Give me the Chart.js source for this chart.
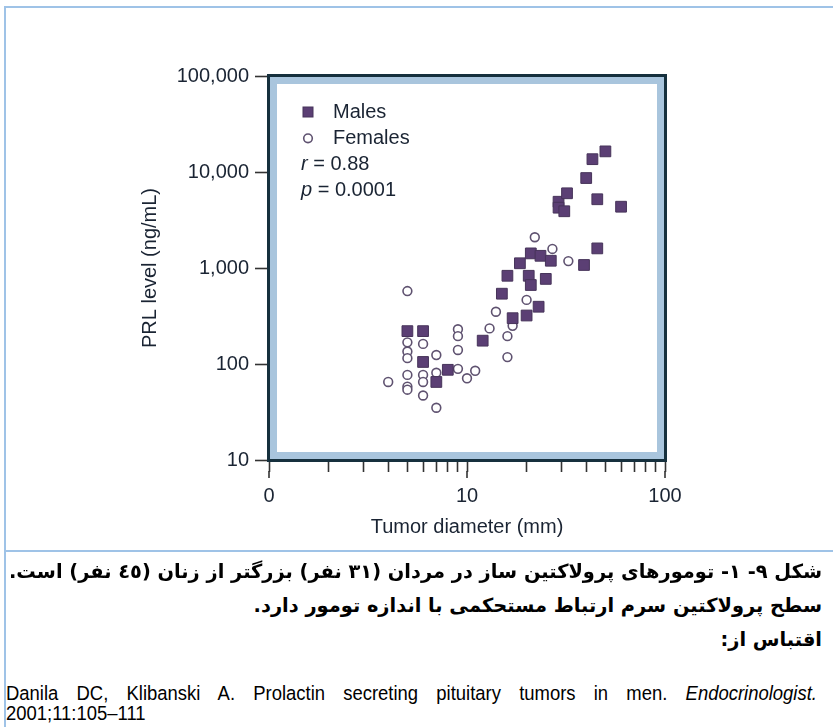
<!DOCTYPE html>
<html lang="fa">
<head>
<meta charset="utf-8">
<title>PRL level vs tumor diameter</title>
<script src="https://cdn.jsdelivr.net/npm/chart.js@4.4.1/dist/chart.umd.min.js"></script>
<style>
  html, body { margin: 0; padding: 0; background: #fff; }
  #pagina { position: relative; width: 833px; height: 727px; overflow: hidden; }
  #grafica { position: absolute; left: 0; top: 0; }
  .linea { position: absolute; background: #9fc3e7; }
  #lineaTop { left: 4px; top: 6px; width: 829px; height: 2px; }
  #lineaIzq { left: 4px; top: 6px; width: 2px; height: 721px; }
  #lineaSep { left: 4px; top: 550px; width: 829px; height: 2px; }
  .fila { position: absolute; height: 30px; line-height: 30px; white-space: nowrap; color: #000; }
  .fa { right: 11px; direction: rtl; text-align: right; font-family: "DejaVu Sans", sans-serif; font-weight: bold; font-size: 19.4px; }
  .ref { left: 6px; width: 901px; font-family: "Liberation Sans", Arial, sans-serif; font-size: 20.5px; transform-origin: left center; transform: scaleX(0.9); }
  .justo { text-align: justify; text-align-last: justify; }
</style>
</head>
<body>
<div id="pagina">
  <canvas id="grafica" width="833" height="548"></canvas>
  <div class="linea" id="lineaTop"></div>
  <div class="linea" id="lineaIzq"></div>
  <div class="linea" id="lineaSep"></div>
  <div class="fila fa" style="top:557px">شکل ۹- ۱- تومورهای پرولاکتین ساز در مردان (۳۱ نفر) بزرگتر از زنان (٤٥ نفر) است.</div>
  <div class="fila fa" style="top:591px">سطح پرولاکتین سرم ارتباط مستحکمی با اندازه تومور دارد.</div>
  <div class="fila fa" style="top:625px">اقتباس از:</div>
  <div class="fila ref justo" style="top:678px">Danila DC, Klibanski A. Prolactin secreting pituitary tumors in men. <i>Endocrinologist.</i></div>
  <div class="fila ref" style="top:698px">2001;11:105–111</div>
</div>
<script>
// === DATOS ===
const hombresDiametro = [5, 6, 6, 7, 8, 12, 15, 16, 17, 18.5, 20, 20.5, 21, 21, 23, 23.5, 25, 26.5, 29, 29, 31, 32, 39, 40, 43, 45.5, 45.5, 50, 60];
const hombresPRL = [220, 220, 105, 65, 87, 175, 540, 830, 300, 1120, 320, 830, 1420, 665, 395, 1340, 770, 1190, 4900, 4250, 3900, 6000, 1075, 8650, 13600, 1600, 5200, 16400, 4350];

const mujeresDiametro = [5, 5, 5, 5, 5, 5, 5, 4, 6, 6, 6, 6, 7, 7, 7, 9, 9, 9, 9, 10, 11, 13, 14, 16, 16, 17, 20, 22, 27, 32.5];
const mujeresPRL = [575, 168, 135, 115, 77, 58, 54, 65, 162, 77, 65, 47, 124, 81, 35, 230, 195, 140, 89, 71, 85, 235, 350, 195, 118, 250, 465, 2090, 1580, 1180];

const ticksX = [1, 2, 3, 4, 5, 6, 7, 8, 9, 10, 20, 30, 40, 50, 60, 70, 80, 90, 100];
const ticksXMayores = [1, 10, 100];
const etiquetasX = ["0", "10", "100"];
const ticksY = [10, 100, 1000, 10000, 100000];
const etiquetasY = ["10", "100", "1,000", "10,000", "100,000"];

const series = ["Males", "Females"];
const valorR = "0.88";
const valorP = "0.0001";

const colorTexto = "#1a2433";

// === PLUGINS ===
// marco azul alrededor del area de la grafica
const marco = {
  id: "marco",
  beforeDatasetsDraw(chart) {
    const { ctx, chartArea: a } = chart;
    ctx.save();
    ctx.strokeStyle = "#a9c5dd";
    ctx.lineWidth = 7;
    ctx.strokeRect(a.left + 4.5, a.top + 4.5, a.right - a.left - 9, a.bottom - a.top - 9);
    ctx.strokeStyle = "#16303d";
    ctx.lineWidth = 3;
    ctx.strokeRect(a.left - 0.5, a.top - 0.5, a.right - a.left + 1, a.bottom - a.top + 1);
    ctx.restore();
  },
  afterDraw(chart) {
    // ticks mayores del eje x un poco mas largos
    const { ctx, chartArea: a, scales } = chart;
    ctx.save();
    ctx.strokeStyle = "#333";
    ctx.lineWidth = 1.6;
    ticksXMayores.forEach(v => {
      const px = scales.x.getPixelForValue(v);
      ctx.beginPath();
      ctx.moveTo(px, a.bottom + 11);
      ctx.lineTo(px, a.bottom + 18);
      ctx.stroke();
    });
    ctx.restore();
  }
};

// leyenda dentro del area
const leyenda = {
  id: "leyenda",
  afterDatasetsDraw(chart) {
    const { ctx, chartArea: a } = chart;
    const x0 = a.left + 39;
    const y0 = a.top + 36;
    const fila = 26.3;
    ctx.save();
    ctx.font = '20px "Liberation Sans", Arial, sans-serif';
    ctx.fillStyle = colorTexto;
    ctx.textBaseline = "middle";

    chart.data.datasets.forEach((ds, i) => {
      const y = y0 + i * fila;
      ctx.lineWidth = ds.borderWidth;
      ctx.strokeStyle = ds.borderColor;
      ctx.fillStyle = ds.backgroundColor;
      if (ds.pointStyle === "rect") {
        ctx.fillRect(x0 - 5, y - 5, 10, 10);
        ctx.strokeRect(x0 - 5, y - 5, 10, 10);
      } else {
        ctx.beginPath();
        ctx.arc(x0, y, 4.3, 0, Math.PI * 2);
        ctx.fill();
        ctx.stroke();
      }
      ctx.fillStyle = colorTexto;
      ctx.fillText(ds.label, x0 + 25, y);
    });

    const xt = a.left + 32;
    [["r", valorR], ["p", valorP]].forEach(([letra, valor], i) => {
      const y = y0 + (2 + i) * fila;
      ctx.font = 'italic 20px "Liberation Sans", Arial, sans-serif';
      ctx.fillText(letra, xt, y);
      const w = ctx.measureText(letra).width;
      ctx.font = '20px "Liberation Sans", Arial, sans-serif';
      ctx.fillText(" = " + valor, xt + w, y);
    });
    ctx.restore();
  }
};

// === GRAFICA ===
Chart.defaults.font.family = '"Liberation Sans", Arial, sans-serif';
Chart.defaults.font.size = 20;
Chart.defaults.color = colorTexto;

const ctx = document.getElementById("grafica").getContext("2d");
new Chart(ctx, {
  type: "scatter",
  data: {
    datasets: [
      {
        label: series[0],
        data: hombresDiametro.map((d, i) => ({ x: d, y: hombresPRL[i] })),
        pointStyle: "rect",
        pointRadius: 7.6,
        backgroundColor: "#5b3f74",
        borderColor: "#47345a",
        borderWidth: 1
      },
      {
        label: series[1],
        data: mujeresDiametro.map((d, i) => ({ x: d, y: mujeresPRL[i] })),
        pointStyle: "circle",
        pointRadius: 4.4,
        backgroundColor: "#ffffff",
        borderColor: "#5f5270",
        borderWidth: 1.6
      }
    ]
  },
  options: {
    responsive: false,
    animation: false,
    layout: { padding: { left: 130, right: 168, top: 76, bottom: 0 } },
    plugins: {
      legend: { display: false },
      tooltip: { enabled: false }
    },
    scales: {
      x: {
        type: "logarithmic",
        min: 1,
        max: 100,
        afterBuildTicks: scale => { scale.ticks = ticksX.map(v => ({ value: v })); },
        afterFit: scale => { scale.height = 88; },
        ticks: {
          autoSkip: false,
          maxRotation: 0,
          padding: 12,
          font: { size: 20 },
          callback: value => {
            const i = ticksXMayores.indexOf(value);
            return i >= 0 ? etiquetasX[i] : "";
          }
        },
        grid: { drawOnChartArea: false, tickLength: 12, tickColor: "#333", tickWidth: 1.6 },
        border: { display: false },
        title: { display: true, text: "Tumor diameter (mm)", padding: { top: 0, bottom: 9 }, font: { size: 20 } }
      },
      y: {
        type: "logarithmic",
        min: 10,
        max: 100000,
        afterBuildTicks: scale => { scale.ticks = ticksY.map(v => ({ value: v })); },
        afterFit: scale => { scale.width = 139; },
        ticks: {
          padding: 6,
          font: { size: 20 },
          callback: value => {
            const i = ticksY.indexOf(value);
            return i >= 0 ? etiquetasY[i] : "";
          }
        },
        grid: { drawOnChartArea: false, tickLength: 14, tickColor: "#333", tickWidth: 1.6 },
        border: { display: false },
        title: { display: true, text: "PRL level (ng/mL)", padding: { top: 8, bottom: 0 }, font: { size: 20 } }
      }
    }
  },
  plugins: [marco, leyenda]
});
</script>
</body>
</html>
